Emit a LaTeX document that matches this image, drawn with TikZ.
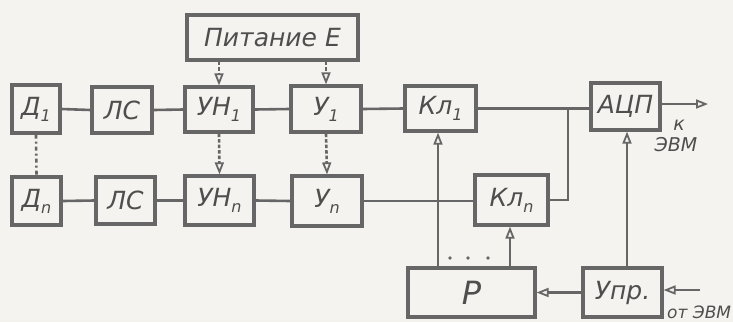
\documentclass[tikz,border=0pt]{standalone}
\usepackage{fontspec}
\setmainfont{DejaVu Sans}
\usetikzlibrary{arrows.meta}
\definecolor{ink}{HTML}{666666}
\definecolor{txt}{HTML}{4E4E4E}
\definecolor{paper}{HTML}{F4F3EF}
\newcommand\lowidx[1]{\raisebox{-0.45ex}{\fontsize{16}{16}\selectfont #1}}
\tikzset{
  blk/.style={draw=ink, line width=3.2pt, rectangle, inner sep=0pt, text=txt,
    font=\fontsize{25}{25}\selectfont\itshape},
  wire/.style={draw=ink, line width=2.6pt},
  arr/.style={wire, -{Triangle[open,length=12pt,width=9pt,line width=1.8pt]}},
  darr/.style={arr, dash pattern=on 3.5pt off 2pt},
  lbl/.style={text=txt, inner sep=0pt, font=\fontsize{19}{19}\selectfont\itshape}
}
\begin{document}
\begin{tikzpicture}[x=1pt,y=-1pt]
\fill[paper] (0,0) rectangle (733,322);
\useasboundingbox (0,0) rectangle (733,322);
% blocks
\node[blk, minimum width=171pt, minimum height=45pt] (pit) at (272.5,37.5) {Питание E};
\node[blk, minimum width=48pt, minimum height=48pt] (d1) at (36,109) {Д\lowidx{1}};
\node[blk, minimum width=60pt, minimum height=46pt] (ls1) at (122,110) {ЛС};
\node[blk, minimum width=68pt, minimum height=45pt] (un1) at (219,109.5) {УН\lowidx{1}};
\node[blk, minimum width=70pt, minimum height=46pt] (u1) at (326,109) {У\lowidx{1}};
\node[blk, minimum width=71pt, minimum height=45pt] (kl1) at (440.5,108.5) {Кл\lowidx{1}};
\node[blk, minimum width=69pt, minimum height=47pt] (adc) at (625.5,106.5) {АЦП};
\node[blk, minimum width=49pt, minimum height=48pt] (dn) at (36.5,201) {Д\lowidx{n}};
\node[blk, minimum width=59pt, minimum height=47pt] (ls2) at (125.5,200.5) {ЛС};
\node[blk, minimum width=69pt, minimum height=49pt] (unn) at (219.5,200.5) {УН\lowidx{n}};
\node[blk, minimum width=70pt, minimum height=50pt] (un) at (327,201) {У\lowidx{n}};
\node[blk, minimum width=73pt, minimum height=50pt] (kln) at (511.5,200) {Кл\lowidx{n}};
\node[blk, minimum width=127pt, minimum height=49pt, font=\fontsize{32}{32}\selectfont\itshape] (r) at (471.5,292.5) {Р};
\node[blk, minimum width=79pt, minimum height=49pt] (upr) at (622.5,292.5) {Упр.};
% row 1
\draw[wire] (d1.east) -- (ls1.west);
\draw[wire] (ls1.west -| ls1.east) -- (un1.west);
\draw[wire] (un1.east) -- (u1.west);
\draw[wire] (u1.east) -- (kl1.west);
\draw[wire] (kl1.east) -- (kl1.east -| adc.west);
% row 2
\draw[wire] (dn.east) -- (ls2.west);
\draw[wire] (ls2.east) -- (unn.west);
\draw[wire] (unn.east) -- (un.west);
\draw[wire] (un.east) -- (un.east -| kln.west);
% junction to Кл n
\coordinate (j) at (568,108.5);
\draw[wire] (j) |- (kln.east);
% vertical links
\draw[wire, dash pattern=on 4pt off 3pt on 2pt off 3pt] (d1.south) -- (dn.north);
\draw[darr] (pit.south -| un1.north) -- (un1.north);
\draw[darr] (pit.south -| u1.north) -- (u1.north);
\draw[darr] (un1.south) -- (unn.north);
\draw[darr] (u1.south) -- (un.north);
% Р outputs
\draw[arr] ([xshift=-33.5pt]r.north) -- ([xshift=-33.5pt]r.north |- kl1.south);
\draw[arr] ([xshift=38.5pt]r.north) -- ([xshift=38.5pt]r.north |- kln.south);
\foreach \dx in {450,468,488} \fill[ink] (\dx,258) circle (1.8pt);
% control
\draw[arr] (upr.west) -- (r.east);
\draw[arr] ([xshift=4.5pt]upr.north) -- ([xshift=4.5pt]upr.north |- adc.south);
\coordinate (evin) at (700,290);
\draw[arr] (evin) -- (evin -| upr.east);
\coordinate (evout) at (708,104);
\draw[arr] (evout -| adc.east) -- (evout);
% labels
\node[lbl] (k) at (679,125) {к};
\node[lbl] (evm1) at (676,145) {ЭВМ};
\node[lbl, font=\fontsize{17}{17}\selectfont\itshape, anchor=west] (evm2) at (667,312) {от ЭВМ};
\end{tikzpicture}
\end{document}
